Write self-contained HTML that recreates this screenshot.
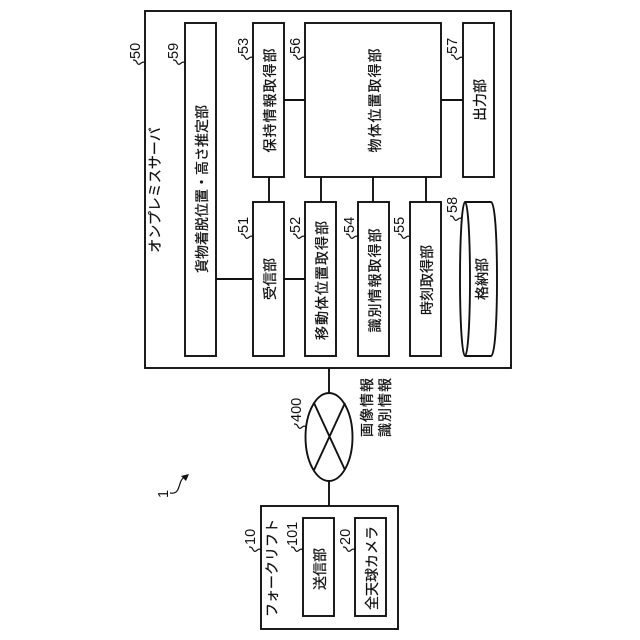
<!DOCTYPE html>
<html><head><meta charset="utf-8"><style>
html,body{margin:0;padding:0;background:#fff}
svg{display:block}
.l{fill:none;stroke:#111;stroke-width:1.9}
.b{fill:#fff;stroke:#111;stroke-width:1.9}
text{font-family:"Liberation Sans","Noto Sans CJK JP",sans-serif;fill:#111;stroke:#111;stroke-width:.25;font-size:14px;text-anchor:middle}
.r{font-size:14.5px;text-anchor:start;stroke-width:0}
</style></head><body>
<svg width="640" height="640" viewBox="0 0 640 640" xmlns="http://www.w3.org/2000/svg">
<defs><path id="s" class="l" style="stroke-width:1.2" d="M0 0C-3 -3 -5 3 -7 1C-9 -1 -8 -3 -12 -3"/></defs>
<rect class="b" x="145" y="11" width="366" height="357"/>
<rect class="b" x="185" y="23" width="31" height="333"/>
<rect class="b" x="253" y="23" width="31" height="154"/>
<rect class="b" x="305" y="23" width="136" height="154"/>
<rect class="b" x="463" y="23" width="31" height="154"/>
<rect class="b" x="253" y="202" width="31" height="154"/>
<rect class="b" x="305" y="202" width="31" height="154"/>
<rect class="b" x="358" y="202" width="31" height="154"/>
<rect class="b" x="410" y="202" width="31" height="154"/>
<path class="b" d="M465 202H491C495 202 497 238 497 279C497 320 495 356 491 356H465C462 356 460 320 460 279C460 238 462 202 465 202Z"/>
<path class="l" d="M465 202C468 202 470 238 470 279C470 320 468 356 465 356"/>
<path class="l" d="M284 100H305M441 100H463M269 177V202M321 177V202M373 177V202M426 177V202M216 279H253M284 279H305M329 368V393M329 481V506M334 567H355M314 403L345 470M345 403L314 470"/>
<ellipse class="l" cx="329" cy="437" rx="23.5" ry="44"/>
<rect class="b" x="261" y="506" width="137" height="123"/>
<rect class="b" x="303" y="518" width="31" height="98"/>
<rect class="b" x="355" y="518" width="31" height="98"/>

<text transform="translate(207,189) rotate(-90)">貨物着脱位置・高さ推定部</text>
<text transform="translate(275,100) rotate(-90)" style="letter-spacing:1px">保持情報取得部</text>
<text transform="translate(380,100) rotate(-90)" style="letter-spacing:1px">物体位置取得部</text>
<text transform="translate(485,100) rotate(-90)">出力部</text>
<text transform="translate(275,279) rotate(-90)">受信部</text>
<text transform="translate(327,280) rotate(-90)" style="letter-spacing:1px">移動体位置取得部</text>
<text transform="translate(380,280) rotate(-90)" style="letter-spacing:1px">識別情報取得部</text>
<text transform="translate(432,280) rotate(-90)">時刻取得部</text>
<text transform="translate(487,279) rotate(-90)">格納部</text>
<text transform="translate(160,190) rotate(-90)">オンプレミスサーバ</text>
<text transform="translate(277,568) rotate(-90)">フォークリフト</text>
<text transform="translate(325,569) rotate(-90)">送信部</text>
<text transform="translate(377,568) rotate(-90)">全天球カメラ</text>
<text transform="translate(372,407) rotate(-90)" style="letter-spacing:1px">画像情報</text>
<text transform="translate(390,407) rotate(-90)" style="letter-spacing:1px">識別情報</text>

<text class="r" transform="translate(140,59) rotate(-90)">50</text>
<text class="r" transform="translate(178,59) rotate(-90)">59</text>
<text class="r" transform="translate(248,54) rotate(-90)">53</text>
<text class="r" transform="translate(300,54) rotate(-90)">56</text>
<text class="r" transform="translate(457,54) rotate(-90)">57</text>
<text class="r" transform="translate(248,233) rotate(-90)">51</text>
<text class="r" transform="translate(300,233) rotate(-90)">52</text>
<text class="r" transform="translate(354,233) rotate(-90)">54</text>
<text class="r" transform="translate(404,233) rotate(-90)">55</text>
<text class="r" transform="translate(457,213) rotate(-90)">58</text>
<text class="r" transform="translate(301,422) rotate(-90)">400</text>
<text class="r" transform="translate(255,545) rotate(-90)">10</text>
<text class="r" transform="translate(297,546) rotate(-90)">101</text>
<text class="r" transform="translate(350,545) rotate(-90)">20</text>
<text class="r" transform="translate(168,498) rotate(-90)">1</text>

<use href="#s" transform="translate(145,63)"/>
<use href="#s" transform="translate(185,63)"/>
<use href="#s" transform="translate(253,58)"/>
<use href="#s" transform="translate(305,58)"/>
<use href="#s" transform="translate(463,58)"/>
<use href="#s" transform="translate(253,237)"/>
<use href="#s" transform="translate(305,237)"/>
<use href="#s" transform="translate(358,237)"/>
<use href="#s" transform="translate(410,237)"/>
<use href="#s" transform="translate(462,219)"/>
<use href="#s" transform="translate(306,427)"/>
<use href="#s" transform="translate(261,550)"/>
<use href="#s" transform="translate(303,550)"/>
<use href="#s" transform="translate(355,550)"/>

<path class="l" style="stroke-width:1.2" d="M170 493C182 495 177 480 185 477"/>
<path d="M189 474L181 476L186 481Z" fill="#111"/>
</svg>
</body></html>
